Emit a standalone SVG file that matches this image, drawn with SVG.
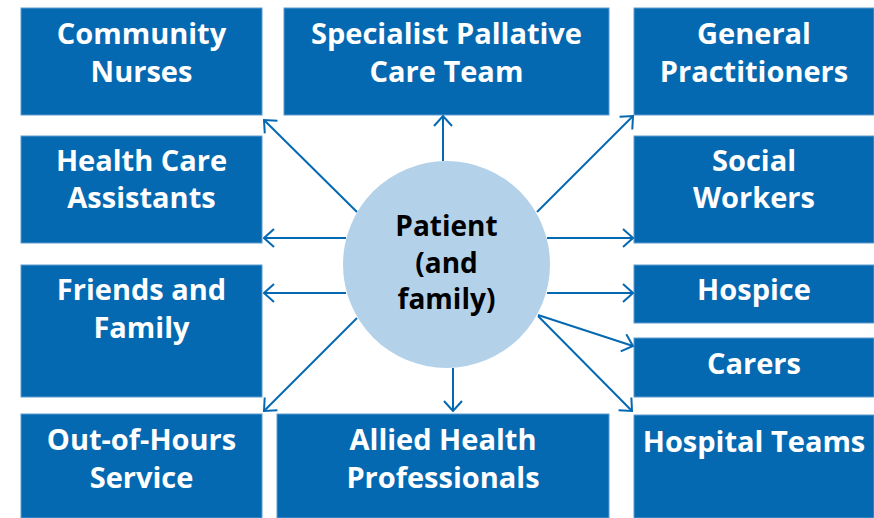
<svg xmlns="http://www.w3.org/2000/svg" width="874" height="518" viewBox="0 0 874 518">
  <style>
    .box { fill: #0569B2; stroke: #5C9BD0; stroke-width: 1; }
    .lbl { fill: #FFFFFF; font-family: "Open Sans", Lato, "Liberation Sans", sans-serif; font-weight: 700; font-size: 29px; text-anchor: middle; }
    .hub { fill: #B3D1E9; }
    .hubtxt { fill: #000000; font-family: "Open Sans", Lato, "Liberation Sans", sans-serif; font-weight: 700; font-size: 28px; text-anchor: middle; }
    .link { stroke: #0569B2; stroke-width: 2; fill: none; marker-end: url(#chev); }
  </style>
  <defs>
    <!-- open chevron arrowhead: 10px deep, 18px wide -->
    <marker id="chev" viewBox="0 0 12 20" refX="11" refY="10" markerWidth="12" markerHeight="20" markerUnits="userSpaceOnUse" orient="auto">
      <path d="M1,1 L11,10 L1,19" fill="none" stroke="#0569B2" stroke-width="2"/>
    </marker>
  </defs>

  <rect width="874" height="518" fill="#FFFFFF"/>

  <g id="community-nurses">
    <rect class="box" x="21" y="8" width="241" height="107"/>
    <text class="lbl" x="141.5" y="44">Community</text>
    <text class="lbl" x="141.5" y="82">Nurses</text>
  </g>
  <g id="specialist-palliative">
    <rect class="box" x="284" y="8" width="325" height="107"/>
    <text class="lbl" x="446.5" y="44">Specialist Pallative</text>
    <text class="lbl" x="446.5" y="82">Care Team</text>
  </g>
  <g id="general-practitioners">
    <rect class="box" x="634" y="8" width="240" height="107"/>
    <text class="lbl" x="754" y="44">General</text>
    <text class="lbl" x="754" y="82">Practitioners</text>
  </g>
  <g id="health-care-assistants">
    <rect class="box" x="21" y="136" width="241" height="107"/>
    <text class="lbl" x="141.5" y="171">Health Care</text>
    <text class="lbl" x="141.5" y="208">Assistants</text>
  </g>
  <g id="social-workers">
    <rect class="box" x="634" y="136" width="240" height="107"/>
    <text class="lbl" x="754" y="171">Social</text>
    <text class="lbl" x="754" y="208">Workers</text>
  </g>
  <g id="friends-family">
    <rect class="box" x="21" y="265" width="241" height="132"/>
    <text class="lbl" x="141.5" y="300">Friends and</text>
    <text class="lbl" x="141.5" y="338">Family</text>
  </g>
  <g id="hospice">
    <rect class="box" x="634" y="265" width="240" height="58"/>
    <text class="lbl" x="754" y="300">Hospice</text>
  </g>
  <g id="carers">
    <rect class="box" x="634" y="338" width="240" height="59"/>
    <text class="lbl" x="754" y="374">Carers</text>
  </g>
  <g id="out-of-hours">
    <rect class="box" x="21" y="414" width="241" height="104"/>
    <text class="lbl" x="141.5" y="450">Out-of-Hours</text>
    <text class="lbl" x="141.5" y="488">Service</text>
  </g>
  <g id="allied-health">
    <rect class="box" x="277" y="414" width="332" height="104"/>
    <text class="lbl" x="443" y="450">Allied Health</text>
    <text class="lbl" x="443" y="488">Professionals</text>
  </g>
  <g id="hospital-teams">
    <rect class="box" x="634" y="415" width="240" height="103"/>
    <text class="lbl" x="754" y="452">Hospital Teams</text>
  </g>

  <g id="connectors">
    <line class="link" x1="357" y1="212" x2="264" y2="120"/>
    <line class="link" x1="443" y1="161" x2="443" y2="116"/>
    <line class="link" x1="537" y1="212" x2="633" y2="116"/>
    <line class="link" x1="346" y1="238" x2="264" y2="238"/>
    <line class="link" x1="547" y1="238" x2="633" y2="238"/>
    <line class="link" x1="346" y1="293" x2="264" y2="293"/>
    <line class="link" x1="547" y1="293" x2="633" y2="293"/>
    <line class="link" x1="538" y1="315" x2="633" y2="346"/>
    <line class="link" x1="538" y1="316" x2="632" y2="411"/>
    <line class="link" x1="453" y1="368" x2="453" y2="411"/>
    <line class="link" x1="357" y1="318" x2="264" y2="411"/>
  </g>

  <g id="patient">
    <circle class="hub" cx="446.5" cy="264.5" r="103.5"/>
    <text class="hubtxt" x="446.5" y="236">Patient</text>
    <text class="hubtxt" x="446.5" y="273">(and</text>
    <text class="hubtxt" x="446.5" y="309">family)</text>
  </g>
</svg>
